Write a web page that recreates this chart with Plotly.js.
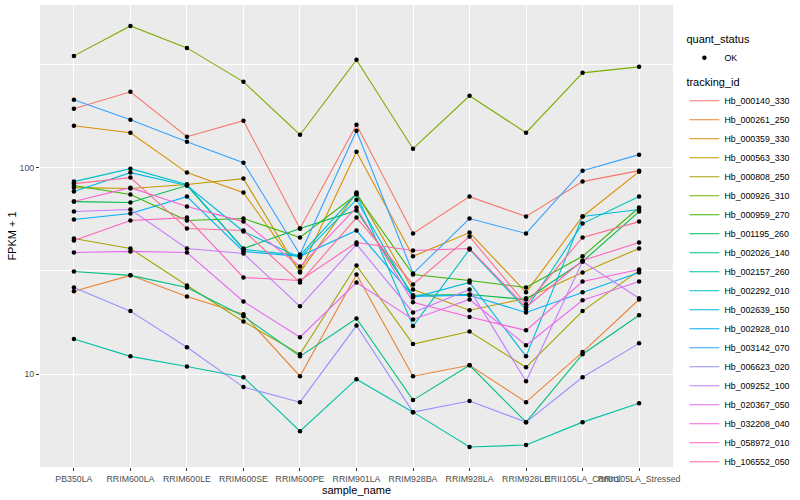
<!DOCTYPE html>
<html><head><meta charset="utf-8">
<script src="https://cdn.plot.ly/plotly-3.0.1.min.js"></script>
<style>html,body{margin:0;padding:0;background:#fff}#chart{width:800px;height:500px}</style>
</head><body><div id="chart"></div>
<script>
// ---- data (FPKM + 1) ----
const sampleNames = ["PB350LA","RRIM600LA","RRIM600LE","RRIM600SE","RRIM600PE","RRIM901LA","RRIM928BA","RRIM928LA","RRIM928LE","RRII105LA_Control","RRII105LA_Stressed"];
const trackingIds = ["Hb_000140_330","Hb_000261_250","Hb_000359_330","Hb_000563_330","Hb_000808_250","Hb_000926_310","Hb_000959_270","Hb_001195_260","Hb_002026_140","Hb_002157_260","Hb_002292_010","Hb_002639_150","Hb_002928_010","Hb_003142_070","Hb_006623_020","Hb_009252_100","Hb_020367_050","Hb_032208_040","Hb_058972_010","Hb_106552_050"];
const quantStatus = ["OK"];

const hb_000140_330 = [192.8, 232.9, 141.2, 168.7, 50.7, 161.4, 48.0, 72.4, 58.0, 85.6, 96.7];
const hb_000261_250 = [25.2, 30.1, 23.8, 19.5, 9.78, 30.4, 9.78, 11.05, 7.32, 12.8, 23.0];
const hb_000359_330 = [159.6, 147.6, 94.6, 75.7, 31.4, 119.5, 37.2, 48.5, 24.9, 58.0, 95.6];
const hb_000563_330 = [80.0, 79.2, 82.8, 88.5, 31.1, 75.7, 25.7, 20.4, 23.3, 31.1, 40.6];
const hb_000808_250 = [45.4, 40.6, 26.9, 18.0, 12.5, 33.6, 14.0, 16.1, 10.8, 20.2, 31.8];
const hb_000926_310 = [347.6, 485.3, 380.0, 260.3, 144.3, 332.5, 123.5, 222.8, 147.6, 287.7, 307.5];
const hb_000959_270 = [81.9, 74.1, 55.5, 56.7, 45.9, 74.1, 30.4, 28.4, 26.3, 37.2, 64.1];
const hb_001195_260 = [68.5, 67.8, 81.9, 40.6, 50.7, 62.0, 24.1, 24.3, 23.0, 35.1, 61.3];
const hb_002026_140 = [31.4, 30.1, 26.3, 19.1, 12.2, 18.6, 7.49, 11.05, 5.86, 12.5, 19.3];
const hb_002157_260 = [14.8, 12.2, 10.9, 9.67, 5.30, 9.46, 6.55, 4.44, 4.54, 5.86, 7.24];
const hb_002292_010 = [85.6, 98.9, 82.8, 40.2, 37.6, 74.9, 17.1, 40.2, 20.6, 53.6, 72.4];
const hb_002639_150 = [76.6, 94.6, 81.9, 49.1, 36.7, 70.0, 23.5, 27.8, 12.2, 58.0, 62.7];
const hb_002928_010 = [56.1, 60.0, 72.4, 39.3, 37.2, 49.6, 23.8, 24.1, 19.9, 24.9, 31.1];
const hb_003142_070 = [213.1, 170.6, 133.6, 105.7, 38.0, 150.9, 30.7, 56.7, 48.0, 96.7, 115.6];
const hb_006623_020 = [26.3, 20.2, 13.5, 8.66, 7.32, 17.2, 6.55, 7.41, 5.86, 9.67, 14.1];
const hb_009252_100 = [61.3, 62.7, 40.6, 38.4, 21.3, 42.5, 19.9, 25.7, 9.25, 35.1, 23.3];
const hb_020367_050 = [38.8, 39.3, 38.8, 22.5, 15.1, 27.8, 18.4, 23.0, 13.8, 22.8, 28.1];
const hb_032208_040 = [68.5, 80.0, 64.8, 54.8, 33.2, 64.1, 22.3, 18.9, 16.3, 28.1, 32.1];
const hb_058972_010 = [44.4, 55.5, 57.3, 29.4, 28.4, 43.4, 39.7, 40.6, 21.1, 35.5, 43.4];
const hb_106552_050 = [83.7, 89.5, 50.7, 49.6, 27.8, 57.3, 27.2, 46.4, 21.8, 45.9, 54.8];

const seriesList = [hb_000140_330, hb_000261_250, hb_000359_330, hb_000563_330, hb_000808_250,
  hb_000926_310, hb_000959_270, hb_001195_260, hb_002026_140, hb_002157_260,
  hb_002292_010, hb_002639_150, hb_002928_010, hb_003142_070, hb_006623_020,
  hb_009252_100, hb_020367_050, hb_032208_040, hb_058972_010, hb_106552_050];

const yTickVals = [10, 100];
const yTickText = ["10", "100"];

// ---- styles ----
const lineColors = ["#F8766D","#EA8331","#D89000","#C09B00","#A3A500","#7CAE00","#39B600","#00BB4E","#00BF7D","#00C1A3","#00BFC4","#00BAE0","#00B0F6","#35A2FF","#9590FF","#C77CFF","#E76BF3","#FA62DB","#FF62BC","#FF6C91"];
const FONT = "Liberation Sans, Arial, Helvetica, sans-serif";

const traces = seriesList.map((vals, i) => ({
  type: "scatter", mode: "lines", x: sampleNames, y: vals,
  name: trackingIds[i], legend: "legend2",
  line: { color: lineColors[i], width: 1.1 }
}));
const ptsX = [], ptsY = [];
seriesList.forEach(vals => vals.forEach((v, j) => { ptsX.push(sampleNames[j]); ptsY.push(v); }));
traces.push({
  type: "scatter", mode: "markers", x: ptsX, y: ptsY,
  name: quantStatus[0], legend: "legend",
  marker: { color: "#000000", size: 4.5 }
});

const layout = {
  width: 800, height: 500,
  margin: { l: 40, r: 113, t: 5, b: 33 },
  paper_bgcolor: "#FFFFFF", plot_bgcolor: "#EBEBEB",
  font: { family: FONT, size: 8.8, color: "#4D4D4D" },
  showlegend: true,
  xaxis: {
    type: "category", range: [-0.6, 10.6], automargin: false, tickangle: 0,
    showgrid: true, gridcolor: "#FFFFFF", gridwidth: 1.1, zeroline: false, showline: false,
    ticks: "outside", ticklen: 3, tickwidth: 1, tickcolor: "#333333",
    tickfont: { family: FONT, size: 8.8, color: "#4D4D4D" },
    title: { text: "sample_name", font: { family: FONT, size: 11, color: "#000000" }, standoff: 2 }
  },
  yaxis: {
    type: "log", range: [0.5507, 2.7874], automargin: false,
    tickmode: "array", tickvals: yTickVals, ticktext: yTickText,
    showgrid: true, gridcolor: "#FFFFFF", gridwidth: 1.1, zeroline: false, showline: false,
    ticks: "outside", ticklen: 3, tickwidth: 1, tickcolor: "#333333",
    tickfont: { family: FONT, size: 8.8, color: "#4D4D4D" },
    minor: { tickmode: "array", tickvals: [3.1623, 31.623, 316.23], showgrid: true, gridcolor: "#FFFFFF", gridwidth: 0.5, ticks: "" },
    title: { text: "FPKM + 1", font: { family: FONT, size: 11, color: "#000000" }, standoff: 0 }
  },
  legend: {
    title: { text: "quant_status", font: { family: FONT, size: 11, color: "#000000" } },
    x: 1.018, xanchor: "left", y: 0.948, yanchor: "top",
    font: { family: FONT, size: 8.8, color: "#000000" },
    bgcolor: "rgba(0,0,0,0)", borderwidth: 0, itemwidth: 30
  },
  legend2: {
    title: { text: "tracking_id", font: { family: FONT, size: 11, color: "#000000" } },
    x: 1.018, xanchor: "left", y: 0.855, yanchor: "top",
    font: { family: FONT, size: 8.8, color: "#000000" },
    bgcolor: "rgba(0,0,0,0)", borderwidth: 0, itemwidth: 30
  }
};

Plotly.newPlot("chart", traces, layout, { displayModeBar: false, responsive: false });
</script>
</body></html>
